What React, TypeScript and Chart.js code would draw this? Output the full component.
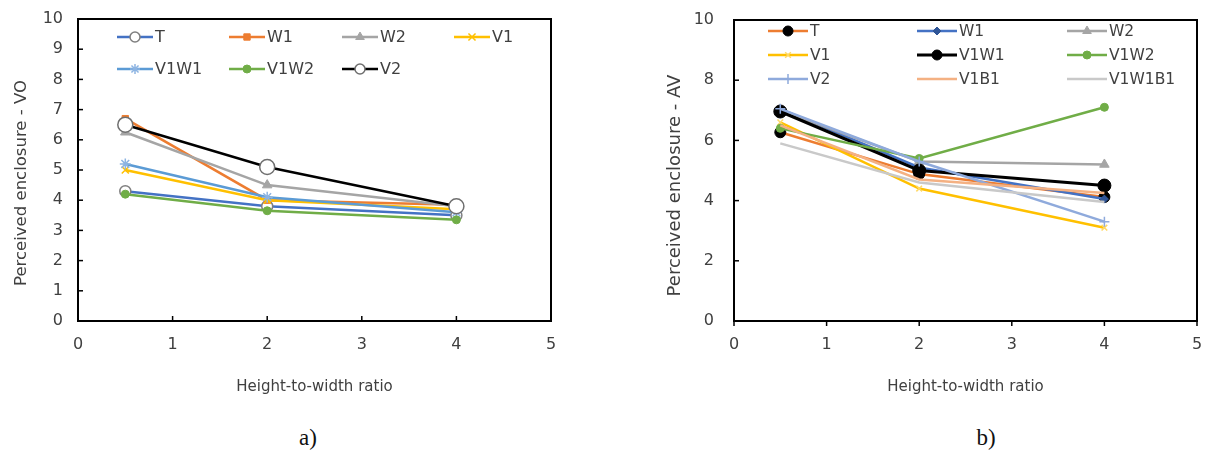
import React, { useEffect, useRef } from 'react';
import { Chart, registerables } from 'chart.js';
import { drawPoint } from 'chart.js/helpers';

Chart.register(...registerables);

// ---------- data ----------
const ratios = [0.5, 2, 4];

const voLabels = ['T', 'W1', 'W2', 'V1', 'V1W1', 'V1W2', 'V2'];
const voT = [4.3, 3.8, 3.5];
const voW1 = [6.7, 4.0, 3.85];
const voW2 = [6.25, 4.5, 3.8];
const voV1 = [5.0, 4.0, 3.7];
const voV1W1 = [5.2, 4.1, 3.6];
const voV1W2 = [4.2, 3.65, 3.35];
const voV2 = [6.5, 5.1, 3.8];

const avLabels = ['T', 'W1', 'W2', 'V1', 'V1W1', 'V1W2', 'V2', 'V1B1', 'V1W1B1'];
const avT = [6.27, 4.88, 4.12];
const avW1 = [7.05, 5.1, 4.05];
const avW2 = [7.0, 5.3, 5.2];
const avV1 = [6.6, 4.4, 3.1];
const avV1W1 = [6.96, 5.0, 4.5];
const avV1W2 = [6.4, 5.4, 7.1];
const avV2 = [7.05, 5.3, 3.3];
const avV1B1 = [6.5, 4.7, 4.25];
const avV1W1B1 = [5.9, 4.6, 3.95];

const xTitle = 'Height-to-width ratio';
const voTitle = 'Perceived enclosure - VO';
const avTitle = 'Perceived enclosure - AV';

// ---------- styles ----------
type Sty = { line: string; style: any; r: number; bg: string; bd: string; bw: number; lw: number };

const voStyles: Sty[] = [
  { line: '#4472C4', style: 'circle', r: 5.5, bg: '#ffffff', bd: '#7f7f7f', bw: 1.5, lw: 2.5 },
  { line: '#ED7D31', style: 'rect', r: 4.5, bg: '#ED7D31', bd: '#ED7D31', bw: 1, lw: 2.5 },
  { line: '#A5A5A5', style: 'triangle', r: 5.5, bg: '#A5A5A5', bd: '#A5A5A5', bw: 1, lw: 2.5 },
  { line: '#FFC000', style: 'crossRot', r: 5, bg: '#FFC000', bd: '#FFC000', bw: 1.5, lw: 2.5 },
  { line: '#5B9BD5', style: 'star', r: 5.5, bg: '#5B9BD5', bd: '#8DB4E2', bw: 1.5, lw: 2.5 },
  { line: '#70AD47', style: 'circle', r: 4, bg: '#70AD47', bd: '#70AD47', bw: 1, lw: 2.5 },
  { line: '#000000', style: 'circle', r: 7.5, bg: '#ffffff', bd: '#6f6f6f', bw: 1.5, lw: 2.5 },
];

const avStyles: Sty[] = [
  { line: '#ED7D31', style: 'circle', r: 5.5, bg: '#000000', bd: '#000000', bw: 1, lw: 2.5 },
  { line: '#4472C4', style: 'rectRot', r: 4, bg: '#2F5597', bd: '#2F5597', bw: 1, lw: 2.5 },
  { line: '#A5A5A5', style: 'triangle', r: 5.5, bg: '#A5A5A5', bd: '#A5A5A5', bw: 1, lw: 2.5 },
  { line: '#FFC000', style: 'crossRot', r: 4, bg: '#FFD966', bd: '#FFD966', bw: 1.5, lw: 2.5 },
  { line: '#000000', style: 'circle', r: 6.5, bg: '#000000', bd: '#000000', bw: 1, lw: 3 },
  { line: '#70AD47', style: 'circle', r: 4, bg: '#70AD47', bd: '#70AD47', bw: 1, lw: 2.5 },
  { line: '#8FAADC', style: 'cross', r: 5, bg: '#8FAADC', bd: '#8FAADC', bw: 1.5, lw: 2.5 },
  { line: '#F4B183', style: false, r: 0, bg: '#F4B183', bd: '#F4B183', bw: 0, lw: 2.5 },
  { line: '#C9C9C9', style: false, r: 0, bg: '#C9C9C9', bd: '#C9C9C9', bw: 0, lw: 2.5 },
];

const FONT = "'DejaVu Sans', Verdana, sans-serif";
const TEXT = '#404040';

// ---------- plugins ----------
const framePlugin = {
  id: 'frame',
  beforeDatasetsDraw(chart: any, _a: any, opts: any) {
    const { ctx, chartArea: a, scales } = chart;
    ctx.save();
    ctx.strokeStyle = '#000';
    ctx.lineWidth = 1.5;
    const xs = scales.x;
    const ys = scales.y;
    for (const t of xs.ticks) {
      const inner = t.value > xs.min && t.value < xs.max;
      if (opts.xDir < 0 && !inner) continue;
      const px = xs.getPixelForValue(t.value);
      ctx.beginPath();
      ctx.moveTo(px, a.bottom);
      ctx.lineTo(px, a.bottom + opts.xDir * 5);
      ctx.stroke();
    }
    for (const t of ys.ticks) {
      if (t.value <= ys.min || t.value >= ys.max) continue;
      const py = ys.getPixelForValue(t.value);
      ctx.beginPath();
      ctx.moveTo(a.left, py);
      ctx.lineTo(a.left + 5, py);
      ctx.stroke();
    }
    ctx.lineWidth = 2;
    ctx.strokeRect(a.left, a.top, a.right - a.left, a.bottom - a.top);

    // y axis title
    ctx.fillStyle = TEXT;
    ctx.font = `${opts.yTitleSize}px ${FONT}`;
    ctx.textAlign = 'center';
    ctx.textBaseline = 'middle';
    ctx.translate(opts.yTitleX, (a.top + a.bottom) / 2 + opts.yTitleDy);
    ctx.rotate(-Math.PI / 2);
    ctx.fillText(opts.yTitle, 0, 0);
    ctx.restore();
  },
};

const gridLegendPlugin = {
  id: 'gridLegend',
  afterDraw(chart: any, _a: any, opts: any) {
    const { ctx, chartArea: a } = chart;
    ctx.save();
    ctx.font = `${opts.fontSize}px ${FONT}`;
    ctx.textBaseline = 'middle';
    ctx.textAlign = 'left';
    chart.data.datasets.forEach((ds: any, i: number) => {
      const col = i % opts.cols.length;
      const row = Math.floor(i / opts.cols.length);
      const x0 = a.left + opts.cols[col];
      const y0 = a.top + opts.rows[row];
      ctx.strokeStyle = ds.borderColor;
      ctx.lineWidth = ds.borderWidth;
      ctx.beginPath();
      ctx.moveTo(x0, y0);
      ctx.lineTo(x0 + opts.lineLen, y0);
      ctx.stroke();
      if (ds.pointStyle) {
        ctx.fillStyle = ds.pointBackgroundColor;
        ctx.strokeStyle = ds.pointBorderColor;
        ctx.lineWidth = ds.pointBorderWidth;
        drawPoint(ctx, {
          pointStyle: ds.pointStyle,
          rotation: 0,
          radius: Math.min(ds.pointRadius, opts.maxR),
          borderWidth: ds.pointBorderWidth,
        } as any, x0 + opts.lineLen / 2, y0);
      }
      ctx.fillStyle = TEXT;
      ctx.fillText(ds.label, x0 + opts.lineLen + 2, y0 + 1);
    });
    ctx.restore();
  },
};

// ---------- chart builder ----------
function buildConfig(p: {
  labels: string[];
  series: number[][];
  styles: Sty[];
  yTitle: string;
  yTitleX: number;
  yTitleDy: number;
  yTitleSize: number;
  yStep: number;
  yWidth: number;
  yTickPad: number;
  pad: { left: number; top: number; right: number; bottom: number };
  xHeight: number;
  xDir: number;
  legend: any;
}) {
  const n = p.series.length;
  const datasets = p.series.map((vals, i) => {
    const s = p.styles[i];
    return {
      label: p.labels[i],
      data: ratios.map((x, j) => ({ x, y: vals[j] })),
      borderColor: s.line,
      borderWidth: s.lw,
      backgroundColor: s.line,
      pointStyle: s.style,
      pointRadius: s.r,
      pointBackgroundColor: s.bg,
      pointBorderColor: s.bd,
      pointBorderWidth: s.bw,
      tension: 0,
      fill: false,
      order: n - i,
    };
  });
  return {
    type: 'line' as const,
    data: { datasets },
    plugins: [framePlugin, gridLegendPlugin],
    options: {
      animation: false,
      responsive: false,
      maintainAspectRatio: false,
      layout: { padding: p.pad, autoPadding: false },
      plugins: {
        legend: { display: false },
        tooltip: { enabled: false },
        frame: { xDir: p.xDir, yTitle: p.yTitle, yTitleX: p.yTitleX, yTitleDy: p.yTitleDy, yTitleSize: p.yTitleSize },
        gridLegend: p.legend,
      },
      scales: {
        x: {
          type: 'linear',
          min: 0,
          max: 5,
          ticks: { stepSize: 1, color: TEXT, font: { family: FONT, size: 16 }, padding: 14, maxRotation: 0 },
          grid: { display: false, drawTicks: false },
          border: { display: false },
          title: { display: true, text: xTitle, color: TEXT, font: { family: FONT, size: 15 }, padding: { top: 0, bottom: 24 } },
          afterFit: (s: any) => {
            s.height = p.xHeight;
            s.paddingLeft = 0;
            s.paddingRight = 0;
          },
        },
        y: {
          type: 'linear',
          min: 0,
          max: 10,
          ticks: { stepSize: p.yStep, color: TEXT, font: { family: FONT, size: 16 }, padding: p.yTickPad },
          grid: { display: false, drawTicks: false },
          border: { display: false },
          title: { display: false },
          afterFit: (s: any) => {
            s.width = p.yWidth;
            s.paddingTop = 0;
            s.paddingBottom = 0;
          },
        },
      },
    },
  };
}

function ChartCanvas(props: { config: any; left: number; width: number; height: number }) {
  const ref = useRef<HTMLCanvasElement | null>(null);
  useEffect(() => {
    if (!ref.current) return;
    const c = new Chart(ref.current, props.config);
    return () => c.destroy();
  }, []);
  return (
    <canvas
      ref={ref}
      width={props.width}
      height={props.height}
      style={{ position: 'absolute', left: props.left, top: 0, width: props.width, height: props.height }}
    />
  );
}

export default function App() {
  const voConfig = buildConfig({
    labels: voLabels,
    series: [voT, voW1, voW2, voV1, voV1W1, voV1W2, voV2],
    styles: voStyles,
    yTitle: voTitle,
    yTitleX: 22,
    yTitleDy: 13,
    yTitleSize: 16.5,
    yStep: 1,
    yWidth: 78,
    yTickPad: 15,
    pad: { left: 0, top: 19, right: 49, bottom: 0 },
    xHeight: 99,
    xDir: -1,
    legend: { cols: [39, 151, 264, 376], rows: [18, 50], lineLen: 36, fontSize: 16, maxR: 5 },
  });
  const avConfig = buildConfig({
    labels: avLabels,
    series: [avT, avW1, avW2, avV1, avV1W1, avV1W2, avV2, avV1B1, avV1W1B1],
    styles: avStyles,
    yTitle: avTitle,
    yTitleX: 75,
    yTitleDy: 15,
    yTitleSize: 18,
    yStep: 2,
    yWidth: 134,
    yTickPad: 20,
    pad: { left: 0, top: 20, right: 8, bottom: 0 },
    xHeight: 99,
    xDir: 1,
    legend: { cols: [34, 183, 333], rows: [11, 35, 59], lineLen: 40, fontSize: 15.5, maxR: 5 },
  });
  const capStyle: React.CSSProperties = {
    position: 'absolute',
    top: 424,
    width: 60,
    textAlign: 'center',
    fontFamily: "'Liberation Serif', 'Times New Roman', serif",
    fontSize: 23,
    color: '#111',
    lineHeight: '28px',
  };
  return (
    <div style={{ position: 'fixed', left: 0, top: 0, width: 1205, height: 461, background: '#fff', overflow: 'hidden' }}>
      <ChartCanvas config={voConfig} left={0} width={600} height={420} />
      <ChartCanvas config={avConfig} left={600} width={605} height={420} />
      <div style={{ ...capStyle, left: 308 - 30 }}>a)</div>
      <div style={{ ...capStyle, left: 986 - 30 }}>b)</div>
    </div>
  );
}
